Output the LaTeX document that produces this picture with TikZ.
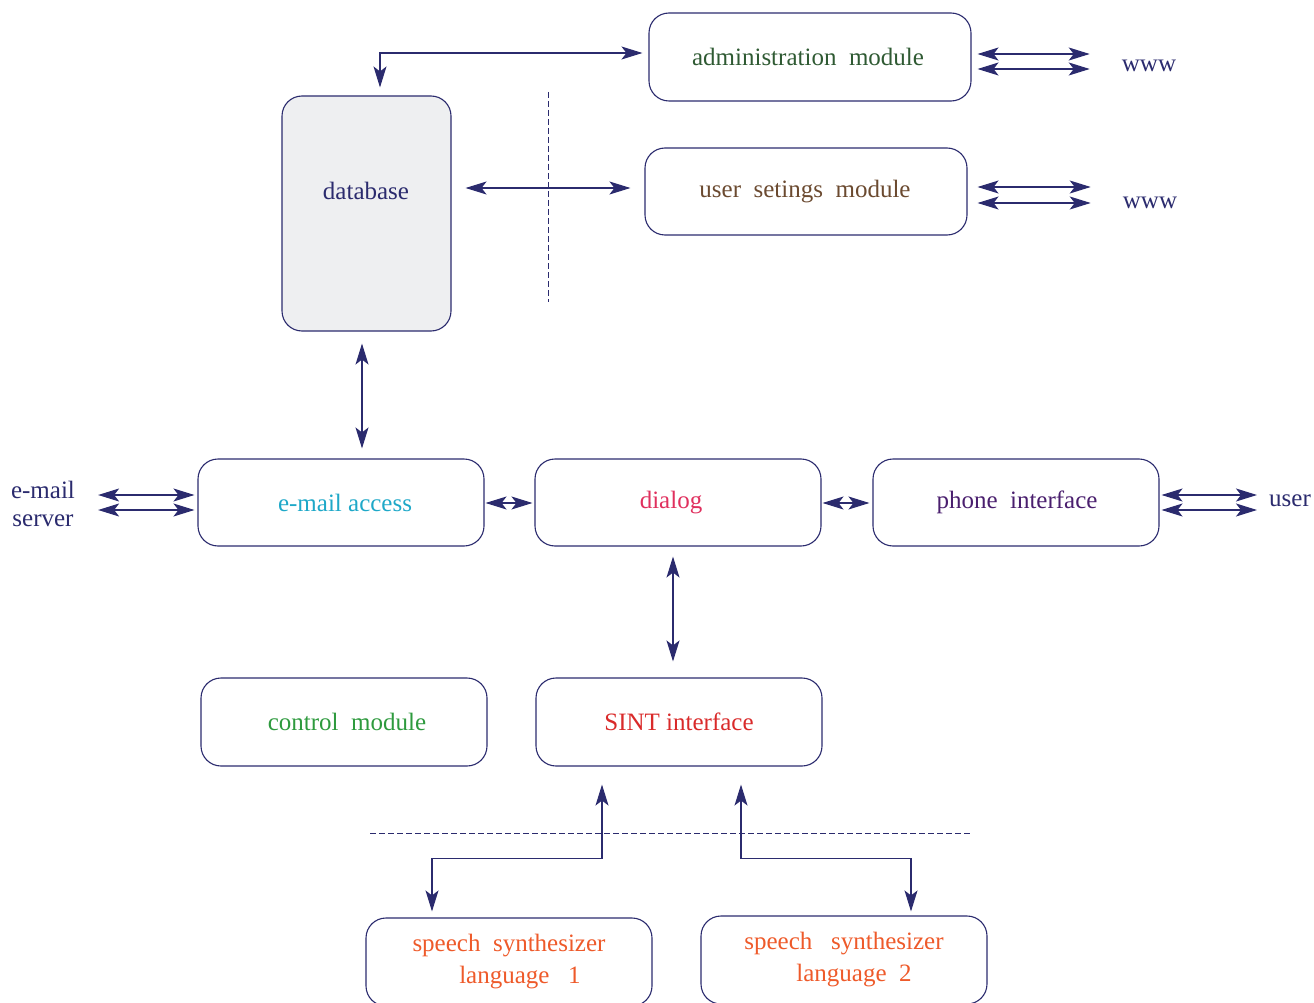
\documentclass[tikz,border=0pt]{standalone}
\usepackage{fontspec}
\setmainfont{Liberation Serif}
\usetikzlibrary{arrows.meta,calc}
\definecolor{navy}{HTML}{2B2B6E}
\definecolor{cadmin}{HTML}{2F5A33}
\definecolor{cuser}{HTML}{6B4A30}
\definecolor{cmail}{HTML}{1EA8C8}
\definecolor{cdialog}{HTML}{E0305E}
\definecolor{cphone}{HTML}{4A1F6E}
\definecolor{ccontrol}{HTML}{2E9A3E}
\definecolor{csint}{HTML}{D92A2A}
\definecolor{cspeech}{HTML}{EE5A2A}
\definecolor{dbfill}{HTML}{EEEFF1}
\begin{document}
\begin{tikzpicture}[x=1pt,y=-1pt,
  box/.style={draw=navy,line width=1.1pt,rounded corners=20pt,rectangle,inner sep=0pt,
    minimum width=286pt,minimum height=87pt,font=\fontsize{25}{32}\selectfont,align=center},
  lbl/.style={inner sep=0pt,text=navy,font=\fontsize{25}{28}\selectfont,align=center},
  arr/.style={draw=navy,line width=1.1pt,{Stealth[length=21pt,width=13pt,inset=5pt]}-{Stealth[length=21pt,width=13pt,inset=5pt]}},
  sepline/.style={draw=navy,line width=0.9pt,dash pattern=on 6pt off 3pt}]
\clip (0,0) rectangle (1314,1003);
\useasboundingbox (0,0) rectangle (1314,1003);
% boxes
\node[box,minimum width=322pt,minimum height=88pt,text=cadmin] (admin) at (810,57) {administration\ \ module\hspace*{4pt}};
\node[box,minimum width=169pt,minimum height=235pt,fill=dbfill,text=navy] (db) at (366.5,213.5) {};
\node[lbl] (dbt) at (366,191) {database};
\node[box,minimum width=322pt,text=cuser] (us) at (806,191.5) {user\ \ setings\ \ module\hspace*{2pt}};
\node[box,text=cmail] (email) at (341,502.5) {\hspace*{8pt}e-mail access};
\node[box,text=cdialog] (dialog) at (678,502.5) {dialog\hspace*{14pt}};
\node[box,text=cphone] (phone) at (1016,502.5) {\hspace*{2pt}phone\ \ interface};
\node[box,minimum height=88pt,text=ccontrol] (control) at (344,722) {\hspace*{6pt}control\ \ module};
\node[box,minimum height=88pt,text=csint] (sint) at (679,722) {SINT interface};
\node[box,minimum height=88pt,text=cspeech] (sp1) at (509,962) {speech\ \ synthesizer\\\hspace*{22pt}language\ \ \ 1};
\node[box,minimum height=88pt,text=cspeech] (sp2) at (844,960) {speech\ \ \ synthesizer\\\hspace*{20pt}language\ \ 2};
% external labels
\node[lbl] (www1) at (1149,66) {www};
\node[lbl] (www2) at (1150,203) {www};
\node[lbl] (srv) at (43,504) {e-mail\\server};
\node[lbl] (user) at (1290,501) {user};
% dashed separators
\draw[sepline] (548,92) -- (548,302);
\draw[sepline] (370,833) -- (970,833);
% connectors
\draw[arr] ($(admin.west)+(-6,-4)$) -| ($(db.north)+(13.5,-8)$);
\draw[arr] ($(db.east |- us.west)+(14,-3.5)$) -- ($(us.west)+(-14,-3.5)$);
\draw[arr] ($(admin.east)+(6,-3)$) -- ($(www1.west)+(-32,-12)$);
\draw[arr] ($(admin.east)+(6,12)$) -- ($(www1.west)+(-32,3)$);
\draw[arr] ($(us.east)+(10,-4.5)$) -- ($(www2.west)+(-32,-16)$);
\draw[arr] ($(us.east)+(10,11.5)$) -- ($(www2.west)+(-32,0)$);
\draw[arr] ($(db.south)+(-4.5,12)$) -- ($(email.north)+(21,-10)$);
\draw[arr] ($(srv.east)+(23,-9)$) -- ($(email.west)+(-3,-7.5)$);
\draw[arr] ($(srv.east)+(23,6)$) -- ($(email.west)+(-3,7.5)$);
\draw[arr] ($(email.east)+(1,0.5)$) -- ($(dialog.west)+(-2,0.5)$);
\draw[arr] ($(dialog.east)+(1,0.5)$) -- ($(phone.west)+(-3,0.5)$);
\draw[arr] ($(phone.east)+(2,-7.5)$) -- ($(user.west)+(-12,-6)$);
\draw[arr] ($(phone.east)+(2,7.5)$) -- ($(user.west)+(-12,9)$);
\draw[arr] ($(dialog.south)+(-5,10)$) -- ($(sint.north)+(-6,-16)$);
\draw[arr] ($(sint.south)+(-77,18)$) -- ++(0,74) -| ($(sp1.north)+(-77,-6)$);
\draw[arr] ($(sint.south)+(62,18)$) -- ++(0,74) -| ($(sp2.north)+(67,-4)$);
\end{tikzpicture}
\end{document}
